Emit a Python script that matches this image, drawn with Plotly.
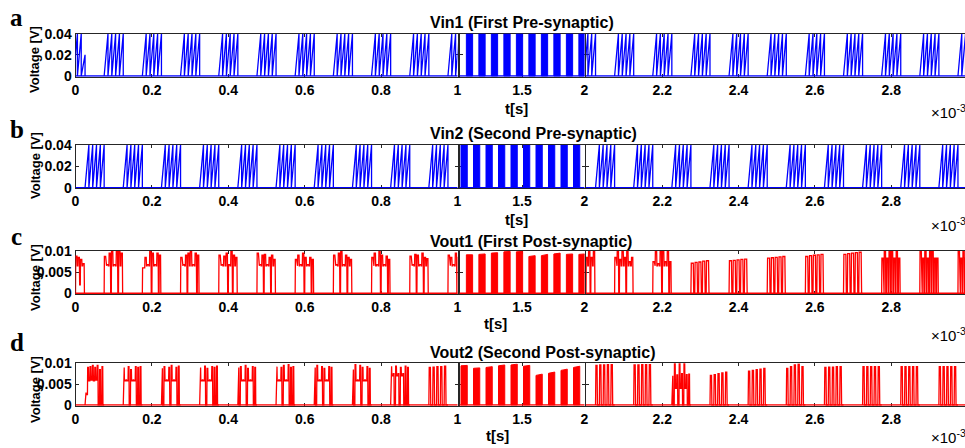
import plotly.graph_objects as go

# ------------------------------------------------------------------
# DATA  (time in ms, i.e. axis unit x10^-3 s ; voltage in V)
# ------------------------------------------------------------------
T_RANGE_MS = [0.0, 3.0]
BURST_MS = 0.05          # duration of one spike burst
BAR_MS = 0.05            # duration of one dense (high-rate) burst

# ---- Vin1 : bursts centred on 0, 0.1, 0.2 ... ; dense bars in 1-2 ms
VIN1_BURST_ONSETS = [-0.025, 0.075, 0.175, 0.275, 0.375, 0.475, 0.575, 0.675, 0.775, 0.875, 0.975,
                     1.975, 2.075, 2.175, 2.275, 2.375, 2.475, 2.575, 2.675, 2.775, 2.875, 2.975]
VIN1_BURST_PEAKS = [[0.04, 0.04, 0.04, 0.04, 0.02]] + [[0.04, 0.04, 0.04, 0.04, 0.04]] * 21
VIN1_BAR_ONSETS = [1.055, 1.155, 1.255, 1.355, 1.455, 1.555, 1.655, 1.755, 1.855, 1.955]
VIN1_BAR_START = [0.04] * 10
VIN1_BAR_END = [0.04] * 10

# ---- Vin2 : bursts centred on 0.05, 0.15 ... ; dense bars in 1-2 ms
VIN2_BURST_ONSETS = [0.025, 0.125, 0.225, 0.325, 0.425, 0.525, 0.625, 0.725, 0.825, 0.925,
                     2.025, 2.125, 2.225, 2.325, 2.425, 2.525, 2.625, 2.725, 2.825, 2.925]
VIN2_BURST_PEAKS = [[0.04, 0.04, 0.04, 0.04, 0.04]] * 20
VIN2_BAR_ONSETS = [1.012, 1.112, 1.212, 1.312, 1.412, 1.512, 1.612, 1.712, 1.812, 1.912]
VIN2_BAR_START = [0.04] * 10
VIN2_BAR_END = [0.04] * 10

# ---- Vout1 (same timing as Vin1)
VOUT1_BURST_ONSETS = VIN1_BURST_ONSETS
VOUT1_BURST_PEAKS = [
    [0.0088, 0.0088, 0.0088, 0.0088, 0.0088, 0.0085, 0.0080, 0.0070],
    [0.0087, 0.0068, 0.0095, 0.0100, 0.0068, 0.0100, 0.0100, 0.0095],
    [0.0060, 0.0085, 0.0068, 0.0100, 0.0095, 0.0068, 0.0095, 0.0090],
    [0.0085, 0.0068, 0.0090, 0.0095, 0.0100, 0.0068, 0.0095, 0.0090],
    [0.0090, 0.0068, 0.0088, 0.0095, 0.0068, 0.0100, 0.0090, 0.0085],
    [0.0095, 0.0068, 0.0090, 0.0092, 0.0068, 0.0085, 0.0090, 0.0080],
    [0.0080, 0.0090, 0.0068, 0.0095, 0.0085, 0.0068, 0.0085, 0.0080],
    [0.0090, 0.0068, 0.0095, 0.0100, 0.0068, 0.0090, 0.0085, 0.0080],
    [0.0085, 0.0095, 0.0068, 0.0100, 0.0090, 0.0068, 0.0088, 0.0080],
    [0.0088, 0.0068, 0.0092, 0.0090, 0.0068, 0.0095, 0.0085, 0.0082],
    [0.0090, 0.0085, 0.0068, 0.0095, 0.0085, 0.0068, 0.0090, 0.0085],
    [0.0085, 0.0100, 0.0085, 0.0100, 0.0085, 0.0100, 0.0085, 0.0100],
    [0.0085, 0.0100, 0.0080, 0.0100, 0.0085, 0.0100, 0.0075, 0.0085],
    [0.0075, 0.0100, 0.0070, 0.0100, 0.0100, 0.0075, 0.0100, 0.0075],
    [0.0071, 0.0073, 0.0074, 0.0076, 0.0077],
    [0.0077, 0.0078, 0.0079, 0.0080, 0.0081],
    [0.0083, 0.0084, 0.0085, 0.0086, 0.0087],
    [0.0087, 0.0089, 0.0090, 0.0091, 0.0092],
    [0.0092, 0.0094, 0.0095, 0.0096, 0.0097],
    [0.0083, 0.0100, 0.0083, 0.0100, 0.0100, 0.0083, 0.0100, 0.0083],
    [0.0100, 0.0083, 0.0100, 0.0083, 0.0100, 0.0100, 0.0083, 0.0083],
    [0.0100, 0.0083, 0.0100, 0.0083, 0.0100, 0.0083, 0.0100, 0.0083],
]
VOUT1_BURST_FLOORS = [
    [0.0, 0.0, 0.0, 0.0, 0.0065, 0.0020, 0.0065],
    [0.0065, 0.0065, 0.0, 0.0065, 0.0065, 0.0, 0.0065],
    [0.0060, 0.0065, 0.0065, 0.0, 0.0065, 0.0065, 0.0],
    [0.0065, 0.0065, 0.0, 0.0065, 0.0065, 0.0065, 0.0],
    [0.0065, 0.0065, 0.0065, 0.0, 0.0065, 0.0, 0.0065],
    [0.0065, 0.0065, 0.0, 0.0065, 0.0065, 0.0, 0.0065],
    [0.0065, 0.0065, 0.0065, 0.0, 0.0065, 0.0065, 0.0],
    [0.0065, 0.0065, 0.0, 0.0065, 0.0065, 0.0, 0.0065],
    [0.0065, 0.0065, 0.0065, 0.0, 0.0065, 0.0065, 0.0],
    [0.0065, 0.0065, 0.0, 0.0065, 0.0065, 0.0, 0.0065],
    [0.0065, 0.0065, 0.0065, 0.0, 0.0065, 0.0065, 0.0],
    [0.0065, 0.0, 0.0065, 0.0, 0.0065, 0.0, 0.0065],
    [0.0065, 0.0, 0.0065, 0.0065, 0.0, 0.0065, 0.0065],
    [0.0065, 0.0065, 0.0065, 0.0, 0.0065, 0.0065, 0.0],
    [0.0, 0.0, 0.0, 0.0],
    [0.0, 0.0, 0.0, 0.0],
    [0.0, 0.0, 0.0, 0.0],
    [0.0, 0.0, 0.0, 0.0],
    [0.0, 0.0, 0.0, 0.0],
    [0.0, 0.0, 0.0, 0.0, 0.0, 0.0, 0.0],
    [0.0, 0.0, 0.0, 0.0, 0.0, 0.0, 0.0],
    [0.0, 0.0, 0.0, 0.0, 0.0, 0.0, 0.0],
]
VOUT1_BAR_ONSETS = VIN1_BAR_ONSETS
VOUT1_BAR_START = [0.0091, 0.0092, 0.0095, 0.0098, 0.0098, 0.0087, 0.0089, 0.0093, 0.0092, 0.0092]
VOUT1_BAR_END = [0.0091, 0.0093, 0.0096, 0.0099, 0.0099, 0.0089, 0.0092, 0.0095, 0.0093, 0.0093]

# ---- Vout2 (same timing as Vin2)
VOUT2_BURST_ONSETS = VIN2_BURST_ONSETS
VOUT2_BURST_PEAKS = [
    [0.0030, 0.0090, 0.0092, 0.0095, 0.0090, 0.0095, 0.0085, 0.0092],
    [0.0090, 0.0060, 0.0092, 0.0085, 0.0060, 0.0092, 0.0090, 0.0092],
    [0.0088, 0.0092, 0.0060, 0.0090, 0.0095, 0.0060, 0.0090, 0.0093],
    [0.0090, 0.0060, 0.0093, 0.0088, 0.0060, 0.0092, 0.0090, 0.0093],
    [0.0090, 0.0092, 0.0060, 0.0095, 0.0088, 0.0060, 0.0092, 0.0090],
    [0.0092, 0.0060, 0.0090, 0.0095, 0.0060, 0.0097, 0.0090, 0.0092],
    [0.0090, 0.0095, 0.0060, 0.0092, 0.0088, 0.0060, 0.0092, 0.0090],
    [0.0085, 0.0097, 0.0060, 0.0095, 0.0090, 0.0060, 0.0092, 0.0088],
    [0.0093, 0.0075, 0.0093, 0.0075, 0.0090, 0.0075, 0.0093, 0.0090],
    [0.0090, 0.0091, 0.0092, 0.0092, 0.0093],
    [0.0095, 0.0096, 0.0096, 0.0097, 0.0097],
    [0.0096, 0.0096, 0.0097, 0.0097, 0.0097],
    [0.0070, 0.0100, 0.0072, 0.0100, 0.0075, 0.0100, 0.0073, 0.0074],
    [0.0071, 0.0073, 0.0075, 0.0077, 0.0079],
    [0.0081, 0.0083, 0.0085, 0.0086, 0.0088],
    [0.0088, 0.0092, 0.0096, 0.0098, 0.0092],
    [0.0090, 0.0091, 0.0091, 0.0092, 0.0092],
    [0.0092, 0.0092, 0.0092, 0.0092, 0.0092],
    [0.0092, 0.0092, 0.0092, 0.0092, 0.0092],
    [0.0092, 0.0092, 0.0092, 0.0092, 0.0092],
]
VOUT2_BURST_FLOORS = [
    [0.0025, 0.0058, 0.0060, 0.0058, 0.0060, 0.0, 0.0],
    [0.0058, 0.0058, 0.0, 0.0058, 0.0058, 0.0, 0.0],
    [0.0, 0.0058, 0.0058, 0.0, 0.0058, 0.0058, 0.0],
    [0.0058, 0.0058, 0.0, 0.0058, 0.0058, 0.0, 0.0],
    [0.0, 0.0058, 0.0058, 0.0, 0.0058, 0.0058, 0.0],
    [0.0058, 0.0058, 0.0, 0.0058, 0.0058, 0.0, 0.0],
    [0.0, 0.0058, 0.0058, 0.0, 0.0058, 0.0058, 0.0],
    [0.0, 0.0058, 0.0058, 0.0, 0.0058, 0.0058, 0.0],
    [0.0070, 0.0, 0.0070, 0.0, 0.0070, 0.0, 0.0],
    [0.0, 0.0, 0.0, 0.0],
    [0.0, 0.0, 0.0, 0.0],
    [0.0, 0.0, 0.0, 0.0],
    [0.0, 0.0040, 0.0, 0.0040, 0.0, 0.0040, 0.0],
    [0.0, 0.0, 0.0, 0.0],
    [0.0, 0.0, 0.0, 0.0],
    [0.0, 0.0, 0.0, 0.0],
    [0.0, 0.0, 0.0, 0.0],
    [0.0, 0.0, 0.0, 0.0],
    [0.0, 0.0, 0.0, 0.0],
    [0.0, 0.0, 0.0, 0.0],
]
VOUT2_BAR_ONSETS = VIN2_BAR_ONSETS
VOUT2_BAR_START = [0.0094, 0.0088, 0.0090, 0.0094, 0.0096, 0.0093, 0.0071, 0.0076, 0.0083, 0.0090]
VOUT2_BAR_END = [0.0095, 0.0089, 0.0092, 0.0096, 0.0098, 0.0095, 0.0074, 0.0079, 0.0086, 0.0093]

ROW_TITLES = ["Vin1 (First Pre-synaptic)", "Vin2 (Second Pre-synaptic)",
              "Vout1 (First Post-synaptic)", "Vout2 (Second Post-synaptic)"]
ROW_LETTERS = ["a", "b", "c", "d"]
Y_TICKS_IN = [0, 0.02, 0.04]
Y_TICKTEXT_IN = ["0", "0.02", "0.04"]
Y_TICKS_OUT = [0, 0.005, 0.01]
Y_TICKTEXT_OUT = ["0", "0.005", "0.01"]
X_TICKS = [[0, 0.2, 0.4, 0.6, 0.8, 1.0], [1.5, 2.0], [2.2, 2.4, 2.6, 2.8]]
X_TICKTEXT = [["0", "0.2", "0.4", "0.6", "0.8", "1"], ["1.5", "2"], ["2.2", "2.4", "2.6", "2.8"]]

# ------------------------------------------------------------------
# helpers that turn the read values into polylines
# ------------------------------------------------------------------
def bursts_xy(onsets, peaks, floors, shape):
    xs, ys = [], []
    for k, (t0, pk) in enumerate(zip(onsets, peaks)):
        n = len(pk)
        s = BURST_MS / n
        fl = floors[k] if floors is not None else [0.0] * (n - 1)
        lv = [0.0] + list(fl) + [0.0]
        for i, p in enumerate(pk):
            a = t0 + i * s
            if shape == "saw":
                xs += [a, a + s, a + s]
                ys += [lv[i], p, lv[i + 1]]
            else:
                r, h, f = shape
                xs += [a, a + r * s, a + h * s, a + f * s, a + s]
                ys += [lv[i], p, p, lv[i + 1], lv[i + 1]]
        xs.append(None)
        ys.append(None)
    return xs, ys


def bars_xy(onsets, start, end):
    xs, ys = [], []
    for t0, a0, a1 in zip(onsets, start, end):
        xs += [t0, t0, t0 + BAR_MS, t0 + BAR_MS, t0, None]
        ys += [0, a0, a1, 0, 0, None]
    return xs, ys


BLUE = "#0000FF"
RED = "#FF0000"
AX = "#262626"

rows = [
    dict(color=BLUE, ymax=0.04, yt=Y_TICKS_IN, ytt=Y_TICKTEXT_IN,
         bursts=bursts_xy(VIN1_BURST_ONSETS, VIN1_BURST_PEAKS, None, "saw"),
         bars=bars_xy(VIN1_BAR_ONSETS, VIN1_BAR_START, VIN1_BAR_END)),
    dict(color=BLUE, ymax=0.04, yt=Y_TICKS_IN, ytt=Y_TICKTEXT_IN,
         bursts=bursts_xy(VIN2_BURST_ONSETS, VIN2_BURST_PEAKS, None, "saw"),
         bars=bars_xy(VIN2_BAR_ONSETS, VIN2_BAR_START, VIN2_BAR_END)),
    dict(color=RED, ymax=0.01, yt=Y_TICKS_OUT, ytt=Y_TICKTEXT_OUT,
         bursts=bursts_xy(VOUT1_BURST_ONSETS, VOUT1_BURST_PEAKS, VOUT1_BURST_FLOORS, (0.1, 0.62, 0.74)),
         bars=bars_xy(VOUT1_BAR_ONSETS, VOUT1_BAR_START, VOUT1_BAR_END)),
    dict(color=RED, ymax=0.01, yt=Y_TICKS_OUT, ytt=Y_TICKTEXT_OUT,
         bursts=bursts_xy(VOUT2_BURST_ONSETS, VOUT2_BURST_PEAKS, VOUT2_BURST_FLOORS, (0.1, 0.4, 0.5)),
         bars=bars_xy(VOUT2_BAR_ONSETS, VOUT2_BAR_START, VOUT2_BAR_END)),
]

# ------------------------------------------------------------------
# layout geometry (pixels)
# ------------------------------------------------------------------
W, H = 965, 448
ROW_TOP = [33.7, 145.0, 251.0, 363.3]
ROW_BOT = [76.7, 188.3, 294.0, 405.7]
COL_PX = [(75.5, 457.5), (459.5, 584.5), (586.0, 965.0)]
COL_RANGE = [(0.0, 1.0), (1.0, 2.0), (2.0, 2.0 + (965.0 - 586.0) / 381.5)]

TITLE_Y = [22.5, 134.0, 241.5, 352.5]
LETTER_XY = [(16.5, 17), (17, 129), (16, 237), (17, 342)]
YLABEL_Y = [60, 166, 278, 390]
TS_XY = [(516, 108), (516, 219), (495, 323.5), (497, 435)]
EXP_Y = [111, 224, 334, 436]

fig = go.Figure()
layout = dict(width=W, height=H, margin=dict(l=0, r=0, t=0, b=0, autoexpand=False),
              paper_bgcolor="white", plot_bgcolor="white", showlegend=False)

FONT = "Liberation Sans"
tickfont = dict(family=FONT, size=14, color="black", weight="bold")

annotations = []
for r, row in enumerate(rows):
    ymax = row["ymax"]
    pad = ymax * 0.7 / (ROW_BOT[r] - ROW_TOP[r])
    ydom = [1 - ROW_BOT[r] / H, 1 - ROW_TOP[r] / H]
    for c in range(3):
        idx = r * 3 + c + 1
        xn = "x" if idx == 1 else f"x{idx}"
        yn = "y" if idx == 1 else f"y{idx}"
        xkey = "xaxis" if idx == 1 else f"xaxis{idx}"
        ykey = "yaxis" if idx == 1 else f"yaxis{idx}"
        layout[xkey] = dict(domain=[COL_PX[c][0] / W, COL_PX[c][1] / W], range=list(COL_RANGE[c]),
                            anchor=yn, showline=True, linecolor=AX, linewidth=1, mirror="ticks",
                            ticks="inside", ticklen=3, tickcolor=AX, tickwidth=1,
                            tickvals=X_TICKS[c], ticktext=X_TICKTEXT[c], tickfont=tickfont,
                            showgrid=False, zeroline=False, layer="below traces", fixedrange=True,
                            automargin=False)
        layout[ykey] = dict(domain=ydom, range=[-pad, ymax], anchor=xn,
                            showline=True, linecolor=AX, linewidth=1,
                            mirror=(False if c == 2 else "ticks"),
                            ticks="inside", ticklen=3, tickcolor=AX, tickwidth=1,
                            tickvals=row["yt"], ticktext=row["ytt"], tickfont=tickfont,
                            showticklabels=(c == 0),
                            showgrid=False, zeroline=False, layer="below traces", fixedrange=True,
                            automargin=False)
        # baseline
        fig.add_trace(go.Scatter(x=T_RANGE_MS, y=[0, 0], mode="lines", xaxis=xn, yaxis=yn,
                                 line=dict(color=row["color"], width=1.4), hoverinfo="skip"))
        if c == 1:
            bx, by = row["bars"]
            fig.add_trace(go.Scatter(x=bx, y=by, mode="lines", fill="toself", fillcolor=row["color"],
                                     xaxis=xn, yaxis=yn, line=dict(color=row["color"], width=1),
                                     hoverinfo="skip"))
        else:
            bx, by = row["bursts"]
            fig.add_trace(go.Scatter(x=bx, y=by, mode="lines", xaxis=xn, yaxis=yn,
                                     line=dict(color=row["color"], width=1.3), hoverinfo="skip"))

    # texts
    annotations.append(dict(text=ROW_TITLES[r], x=428 / W, y=1 - TITLE_Y[r] / H, xref="paper", yref="paper",
                            xanchor="left", yanchor="middle", showarrow=False,
                            font=dict(family=FONT, size=16, color="black", weight="bold")))
    annotations.append(dict(text=ROW_LETTERS[r], x=LETTER_XY[r][0] / W, y=1 - LETTER_XY[r][1] / H,
                            xref="paper", yref="paper", xanchor="center", yanchor="middle", showarrow=False,
                            font=dict(family="Liberation Serif", size=25, color="black", weight="bold")))
    annotations.append(dict(text="Voltage [V]", x=35 / W, y=1 - YLABEL_Y[r] / H, xref="paper", yref="paper",
                            xanchor="center", yanchor="middle", textangle=-90, showarrow=False,
                            font=dict(family=FONT, size=13, color="black", weight="bold")))
    annotations.append(dict(text="t[s]", x=TS_XY[r][0] / W, y=1 - TS_XY[r][1] / H, xref="paper", yref="paper",
                            xanchor="center", yanchor="middle", showarrow=False,
                            font=dict(family=FONT, size=15, color="black", weight="bold")))
    annotations.append(dict(text="\u00d710<sup>-3</sup>", x=929 / W, y=1 - EXP_Y[r] / H, xref="paper",
                            yref="paper", xanchor="left", yanchor="middle", showarrow=False,
                            font=dict(family=FONT, size=15, color="black")))

layout["annotations"] = annotations
fig.update_layout(**layout)
fig.write_html("out.html",
               post_script="document.body.style.margin='0';document.body.style.padding='0';"
                           "document.documentElement.style.overflow='hidden';")
